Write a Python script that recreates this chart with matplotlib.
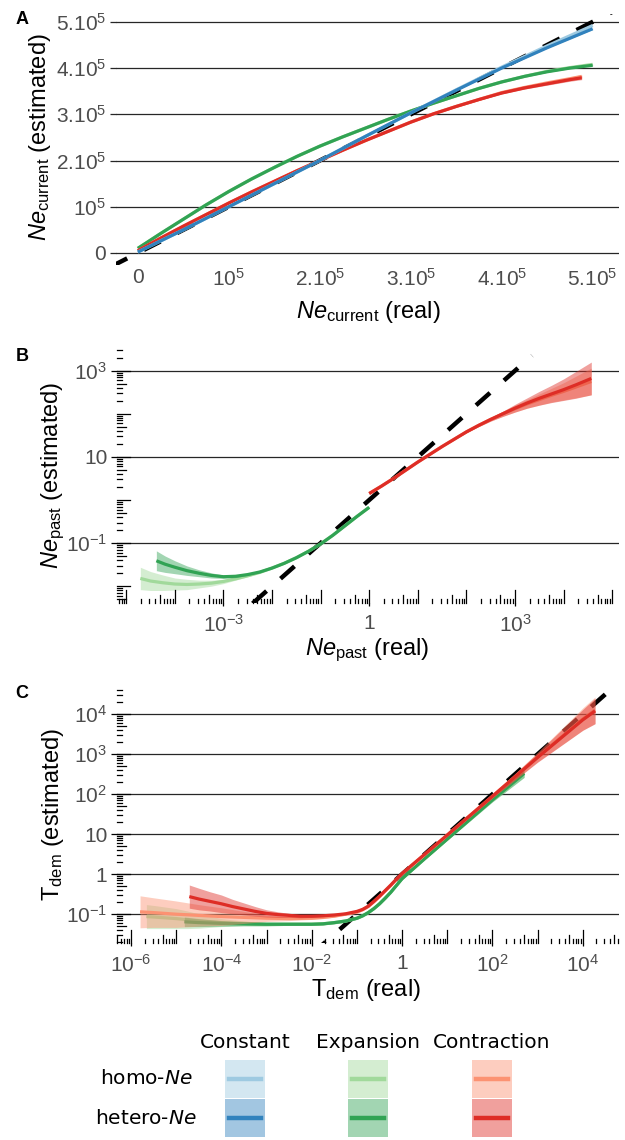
import numpy as np
import matplotlib
matplotlib.use("Agg")
import matplotlib.pyplot as plt
import matplotlib.transforms as mtransforms
from matplotlib.patches import Rectangle
from matplotlib.lines import Line2D

plt.rcParams['font.family'] = ['Liberation Sans', 'DejaVu Sans']
plt.rcParams['mathtext.fontset'] = 'custom'
plt.rcParams['mathtext.rm'] = 'Liberation Sans'
plt.rcParams['mathtext.it'] = 'Liberation Sans:italic'
plt.rcParams['mathtext.bf'] = 'Liberation Sans:bold'

W, H = 625, 1140
TICK_GREY = '#4d4d4d'

# colours (light = homo-Ne, dark = hetero-Ne)
col = {'const': ('#9ecae1', '#3182bd'),
       'exp': ('#a1d99b', '#31a354'),
       'contr': ('#fc9272', '#de2d26')}

# ---------------- panel A : Ne current (units of 1e5) ----------------
a_x = [0, 0.5, 1, 1.5, 2, 2.5, 3, 3.5, 4, 4.5, 5]
a_const_het = [0.02, 0.5, 1.0, 1.5, 2.0, 2.52, 3.03, 3.52, 4.0, 4.44, 4.85]
a_const_hom = [0.02, 0.5, 1.0, 1.5, 2.0, 2.52, 3.03, 3.53, 4.02, 4.48, 4.92]
a_const_s = [0.0, 0.0, 0.0, 0.0, 0.0, 0.005, 0.005, 0.01, 0.01, 0.01, 0.015]
a_exp_x = [0, 0.25, 0.5, 0.75, 1.0, 1.25, 1.5, 1.75, 2.0, 2.25, 2.5,
           2.75, 3.0, 3.25, 3.5, 3.75, 4.0, 4.25, 4.5, 4.75, 5.0]
a_exp_het = [0.10, 0.42, 0.73, 1.04, 1.33, 1.60, 1.85, 2.09, 2.31, 2.51, 2.70,
             2.89, 3.07, 3.24, 3.40, 3.56, 3.70, 3.82, 3.92, 4.00, 4.06]
a_exp_hom = [0.10, 0.42, 0.73, 1.04, 1.33, 1.60, 1.85, 2.09, 2.31, 2.51, 2.70,
             2.89, 3.07, 3.24, 3.40, 3.56, 3.70, 3.82, 3.93, 4.01, 4.08]
a_exp_s = [0.0] * 8 + [0.005] * 6 + [0.01] * 7
a_contr_x = [0, 0.25, 0.5, 0.75, 1.0, 1.25, 1.5, 1.75, 2.0, 2.25, 2.5,
             2.75, 3.0, 3.25, 3.5, 3.75, 4.0, 4.25, 4.5, 4.75, 4.88]
a_contr_het = [0.05, 0.32, 0.58, 0.83, 1.08, 1.32, 1.55, 1.78, 2.0, 2.22, 2.43,
               2.63, 2.83, 3.01, 3.17, 3.32, 3.46, 3.57, 3.66, 3.75, 3.79]
a_contr_hom = [0.05, 0.32, 0.58, 0.83, 1.08, 1.32, 1.55, 1.78, 2.0, 2.22, 2.43,
               2.63, 2.83, 3.01, 3.17, 3.32, 3.47, 3.58, 3.68, 3.77, 3.82]
a_contr_s = [0.0, 0.0, 0.0, 0.0, 0.0, 0.0, 0.0, 0.005, 0.005, 0.008, 0.008,
             0.01, 0.01, 0.012, 0.015, 0.018, 0.02, 0.025, 0.03, 0.035, 0.04]

# ---------------- panel B : Ne past (log10) ----------------
b_exp_het_x = [-4.38, -4.2, -4.0, -3.75, -3.5, -3.25, -3.0, -2.75, -2.5, -2.25,
               -2.0, -1.75, -1.5, -1.25, -1.0, -0.75, -0.5, -0.25, 0.0]
b_exp_het_y = [-1.41, -1.49, -1.56, -1.64, -1.70, -1.75, -1.78, -1.77, -1.73, -1.67,
               -1.58, -1.47, -1.34, -1.19, -1.02, -0.82, -0.60, -0.38, -0.17]
b_exp_het_s = [0.23, 0.19, 0.15, 0.11, 0.08, 0.06, 0.04, 0.03, 0.02, 0.015,
               0.01, 0.01, 0.01, 0.01, 0.01, 0.01, 0.01, 0.01, 0.01]
b_exp_hom_x = [-4.71, -4.5, -4.25, -4.0, -3.75, -3.5, -3.25, -3.0, -2.75, -2.5,
               -2.25, -2.0, -1.75, -1.5, -1.25, -1.0, -0.75, -0.5, -0.25, 0.0]
b_exp_hom_y = [-1.82, -1.88, -1.92, -1.95, -1.96, -1.95, -1.93, -1.89, -1.83, -1.76,
               -1.68, -1.58, -1.47, -1.34, -1.19, -1.02, -0.82, -0.60, -0.38, -0.17]
b_exp_hom_s = [0.26, 0.22, 0.18, 0.14, 0.12, 0.09, 0.07, 0.05, 0.03, 0.02,
               0.015, 0.01, 0.01, 0.01, 0.01, 0.01, 0.01, 0.01, 0.01, 0.01]
b_contr_x = [0.0, 0.25, 0.5, 0.75, 1.0, 1.25, 1.5, 1.75, 2.0, 2.25, 2.5,
             2.75, 3.0, 3.25, 3.5, 3.75, 4.0, 4.25, 4.57]
b_contr_het_y = [0.15, 0.32, 0.50, 0.69, 0.88, 1.06, 1.24, 1.41, 1.58, 1.73, 1.87,
                 2.00, 2.13, 2.25, 2.36, 2.46, 2.56, 2.67, 2.82]
b_contr_het_s = [0.01, 0.01, 0.01, 0.01, 0.01, 0.01, 0.01, 0.01, 0.02, 0.03, 0.04,
                 0.06, 0.09, 0.12, 0.16, 0.20, 0.25, 0.31, 0.38]
b_contr_hom_y = [0.15, 0.32, 0.50, 0.69, 0.88, 1.06, 1.24, 1.41, 1.58, 1.73, 1.87,
                 2.00, 2.12, 2.23, 2.33, 2.43, 2.52, 2.62, 2.75]
b_contr_hom_s = [0.01, 0.01, 0.01, 0.01, 0.01, 0.01, 0.01, 0.01, 0.02, 0.03, 0.04,
                 0.06, 0.08, 0.10, 0.13, 0.16, 0.20, 0.25, 0.31]
b_diag = [-2.4, 3.35]

# ---------------- panel C : T dem (log10) ----------------
c_contr_het_x = [-4.71, -4.5, -4.25, -4.0, -3.75, -3.5, -3.25, -3.0, -2.75, -2.5,
                 -2.25, -2.0, -1.75, -1.5, -1.25, -1.0, -0.875, -0.75, -0.625, -0.5,
                 -0.375, -0.25, -0.125, 0.0, 0.5, 1.0, 2.0, 3.0, 4.0, 4.27]
c_contr_het_y = [-0.56, -0.62, -0.68, -0.74, -0.81, -0.87, -0.93, -0.98, -1.01, -1.03,
                 -1.05, -1.05, -1.04, -1.02, -0.99, -0.93, -0.88, -0.80, -0.68, -0.55,
                 -0.41, -0.27, -0.12, 0.02, 0.50, 0.98, 1.95, 2.92, 3.86, 4.08]
c_contr_het_s = [0.29, 0.27, 0.24, 0.22, 0.18, 0.15, 0.12, 0.09, 0.07, 0.05,
                 0.04, 0.03, 0.02, 0.02, 0.02, 0.02, 0.02, 0.02, 0.02, 0.02,
                 0.02, 0.02, 0.02, 0.02, 0.02, 0.02, 0.04, 0.12, 0.26, 0.32]
c_contr_hom_x = [-5.8, -5.5, -5.0, -4.5, -4.0, -3.5, -3.0, -2.5, -2.0, -1.75,
                 -1.5, -1.25, -1.0, -0.875, -0.75, -0.625, -0.5, -0.375, -0.25, -0.125,
                 0.0, 0.5, 1.0, 2.0, 3.0, 4.0, 4.27]
c_contr_hom_y = [-0.94, -0.96, -1.0, -1.03, -1.06, -1.08, -1.10, -1.11, -1.10, -1.08,
                 -1.05, -1.0, -0.95, -0.89, -0.81, -0.69, -0.56, -0.42, -0.28, -0.13,
                 0.01, 0.49, 0.98, 1.95, 2.93, 3.88, 4.10]
c_contr_hom_s = [0.40, 0.37, 0.33, 0.27, 0.22, 0.15, 0.08, 0.05, 0.03, 0.03,
                 0.02, 0.02, 0.02, 0.02, 0.02, 0.02, 0.02, 0.02, 0.02, 0.02,
                 0.02, 0.02, 0.02, 0.04, 0.12, 0.28, 0.33]
c_exp_het_x = [-4.82, -4.5, -4.0, -3.5, -3.0, -2.5, -2.0, -1.75, -1.5, -1.25,
               -1.0, -0.875, -0.75, -0.625, -0.5, -0.375, -0.25, -0.125, 0.0, 0.5,
               1.0, 2.0, 2.7]
c_exp_het_y = [-1.19, -1.21, -1.23, -1.24, -1.25, -1.25, -1.25, -1.24, -1.21, -1.17,
               -1.10, -1.04, -0.96, -0.86, -0.74, -0.60, -0.45, -0.28, -0.11, 0.39,
               0.88, 1.86, 2.52]
c_exp_het_s = [0.12, 0.10, 0.07, 0.05, 0.04, 0.03, 0.03, 0.03, 0.03, 0.03,
               0.03, 0.03, 0.03, 0.03, 0.03, 0.03, 0.03, 0.03, 0.03, 0.03,
               0.03, 0.05, 0.10]
c_exp_hom_x = [-5.66, -5.5, -5.25, -5.0, -4.75, -4.5, -4.25, -4.0, -3.5, -3.0,
               -2.5, -2.0, -1.75, -1.5, -1.25, -1.0, -0.875, -0.75, -0.625, -0.5,
               -0.375, -0.25, -0.125, 0.0, 0.5, 1.0, 2.0, 2.7]
c_exp_hom_y = [-1.06, -1.07, -1.09, -1.11, -1.14, -1.17, -1.19, -1.21, -1.23, -1.25,
               -1.25, -1.25, -1.24, -1.21, -1.17, -1.10, -1.04, -0.96, -0.86, -0.74,
               -0.60, -0.45, -0.28, -0.11, 0.39, 0.88, 1.86, 2.52]
c_exp_hom_s = [0.30, 0.29, 0.27, 0.25, 0.22, 0.18, 0.14, 0.10, 0.06, 0.04,
               0.03, 0.03, 0.03, 0.03, 0.03, 0.03, 0.03, 0.03, 0.03, 0.03,
               0.03, 0.03, 0.03, 0.03, 0.03, 0.03, 0.05, 0.10]
c_diag = [-2.0, 5.0]

# legend
leg_cols = ['Constant', 'Expansion', 'Contraction']
leg_keys = ['const', 'exp', 'contr']
leg_rows = ['homo-$\\mathit{Ne}$', 'hetero-$\\mathit{Ne}$']

fig = plt.figure(figsize=(W / 100, H / 100), dpi=100)


def panel(l, r, t, b):
    return fig.add_axes([l / W, 1 - b / H, (r - l) / W, (b - t) / H])


def curve(ax, x, y, s, color, z, log=False, scale=1.0):
    x = np.asarray(x, float)
    y = np.asarray(y, float)
    s = np.asarray(s, float)
    if log:
        xx, yy, lo, hi = 10 ** x, 10 ** y, 10 ** (y - s), 10 ** (y + s)
    else:
        xx, yy, lo, hi = x * scale, y * scale, (y - s) * scale, (y + s) * scale
    ax.fill_between(xx, lo, hi, color=color, alpha=0.45, lw=0, zorder=z)
    ax.plot(xx, yy, color=color, lw=2.3, zorder=z + 0.5,
            solid_capstyle='butt', solid_joinstyle='round')


def dashed(ax, pts, log=False, scale=1.0):
    v = np.asarray(pts, float)
    v = 10 ** v if log else v * scale
    ax.plot(v, v, color='black', lw=3.2, dashes=(4.2, 4.2), zorder=1,
            dash_capstyle='butt')


def style(ax):
    for sp in ax.spines.values():
        sp.set_visible(False)
    ax.yaxis.grid(True, color='0.15', lw=0.9)
    ax.set_axisbelow(True)


def logticks(ax, px_w, px_h):
    tx = mtransforms.blended_transform_factory(ax.transData, ax.transAxes)
    ty = mtransforms.blended_transform_factory(ax.transAxes, ax.transData)
    x0, x1 = ax.get_xlim()
    y0, y1 = ax.get_ylim()
    for d in range(-8, 8):
        for m in range(1, 10):
            v = m * 10.0 ** d
            ln = 13 if m == 1 else (8.5 if m == 5 else 4.5)
            if x0 <= v <= x1:
                ax.plot([v, v], [0, ln / px_h], transform=tx, color='black',
                        lw=0.9, clip_on=False, zorder=5)
            if y0 <= v <= y1:
                ax.plot([0, ln / px_w], [v, v], transform=ty, color='black',
                        lw=0.9, clip_on=False, zorder=5)


def fig_text(x, y, s, **kw):
    fig.text(x / W, 1 - y / H, s, **kw)


L, R = 117, 619
LS = 15

# ---------------- A ----------------
axA = panel(116, R, 14, 265)
style(axA)
E5 = 1e5
dashed(axA, [-0.3, 5.5], scale=E5)
curve(axA, a_exp_x, a_exp_hom, a_exp_s, col['exp'][0], 2, scale=E5)
curve(axA, a_exp_x, a_exp_het, a_exp_s, col['exp'][1], 3, scale=E5)
curve(axA, a_contr_x, a_contr_hom, a_contr_s, col['contr'][0], 4, scale=E5)
curve(axA, a_contr_x, a_contr_het, a_contr_s, col['contr'][1], 5, scale=E5)
curve(axA, a_x, a_const_hom, a_const_s, col['const'][0], 6, scale=E5)
curve(axA, a_x, a_const_het, a_const_s, col['const'][1], 7, scale=E5)
axA.set_xlim(-0.24 * E5, 5.29 * E5)
axA.set_ylim(-0.26 * E5, 5.17 * E5)
a_ticks = [0, 1, 2, 3, 4, 5]
a_labels = ['0', '$10^5$', '$2.10^5$', '$3.10^5$', '$4.10^5$', '$5.10^5$']
axA.set_xticks([t * E5 for t in a_ticks])
axA.set_xticklabels(a_labels)
axA.set_yticks([t * E5 for t in a_ticks])
axA.set_yticklabels(a_labels)
axA.tick_params(axis='x', length=0, pad=2, labelsize=LS, labelcolor=TICK_GREY)
axA.tick_params(axis='y', length=4, width=0.9, color='0.15', pad=3,
                labelsize=LS, labelcolor=TICK_GREY)

# ---------------- B ----------------
axB = panel(L, R, 350, 603)
style(axB)
axB.set_xscale('log')
axB.set_yscale('log')
dashed(axB, b_diag, log=True)
curve(axB, b_exp_hom_x, b_exp_hom_y, b_exp_hom_s, col['exp'][0], 2, log=True)
curve(axB, b_exp_het_x, b_exp_het_y, b_exp_het_s, col['exp'][1], 3, log=True)
curve(axB, b_contr_x, b_contr_hom_y, b_contr_hom_s, col['contr'][0], 4, log=True)
curve(axB, b_contr_x, b_contr_het_y, b_contr_het_s, col['contr'][1], 5, log=True)
axB.set_xlim(10 ** -5.19, 10 ** 5.14)
axB.set_ylim(10 ** -2.39, 10 ** 3.48)
axB.set_xticks([1e-3, 1, 1e3])
axB.set_xticklabels(['$10^{-3}$', '1', '$10^3$'])
axB.set_yticks([1e-1, 10, 1e3])
axB.set_yticklabels(['$10^{-1}$', '10', '$10^3$'])
axB.minorticks_off()
axB.tick_params(axis='x', length=2, width=0.9, pad=6, labelsize=LS, labelcolor=TICK_GREY)
axB.tick_params(axis='y', length=4, width=0.9, pad=3, labelsize=LS, labelcolor=TICK_GREY)
logticks(axB, R - L, 603 - 350)

# ---------------- C ----------------
axC = panel(L, R, 687, 943)
style(axC)
axC.set_xscale('log')
axC.set_yscale('log')
dashed(axC, c_diag, log=True)
curve(axC, c_exp_hom_x, c_exp_hom_y, c_exp_hom_s, col['exp'][0], 2, log=True)
curve(axC, c_exp_het_x, c_exp_het_y, c_exp_het_s, col['exp'][1], 3, log=True)
curve(axC, c_contr_hom_x, c_contr_hom_y, c_contr_hom_s, col['contr'][0], 4, log=True)
curve(axC, c_contr_het_x, c_contr_het_y, c_contr_het_s, col['contr'][1], 5, log=True)
axC.set_xlim(10 ** -6.31, 10 ** 4.8)
axC.set_ylim(10 ** -1.72, 10 ** 4.68)
axC.set_xticks([1e-6, 1e-4, 1e-2, 1, 1e2, 1e4])
axC.set_xticklabels(['$10^{-6}$', '$10^{-4}$', '$10^{-2}$', '1', '$10^2$', '$10^4$'])
axC.set_yticks([1e-1, 1, 10, 1e2, 1e3, 1e4])
axC.set_yticklabels(['$10^{-1}$', '1', '10', '$10^2$', '$10^3$', '$10^4$'])
axC.minorticks_off()
axC.tick_params(axis='x', length=2, width=0.9, pad=6, labelsize=LS, labelcolor=TICK_GREY)
axC.tick_params(axis='y', length=4, width=0.9, pad=3, labelsize=LS, labelcolor=TICK_GREY)
logticks(axC, R - L, 943 - 687)

# axis titles
TS = 17
fig_text(40, 137, '$\\mathit{Ne}_{\\mathrm{current}}$ (estimated)', rotation=90,
         ha='center', va='center', fontsize=TS)
fig_text(368, 312, '$\\mathit{Ne}_{\\mathrm{current}}$ (real)', ha='center', va='center', fontsize=TS)
fig_text(53, 475, '$\\mathit{Ne}_{\\mathrm{past}}$ (estimated)', rotation=90,
         ha='center', va='center', fontsize=TS)
fig_text(367, 650, '$\\mathit{Ne}_{\\mathrm{past}}$ (real)', ha='center', va='center', fontsize=TS)
fig_text(53, 815, '$\\mathrm{T}_{\\mathrm{dem}}$ (estimated)', rotation=90,
         ha='center', va='center', fontsize=TS)
fig_text(366, 990, '$\\mathrm{T}_{\\mathrm{dem}}$ (real)', ha='center', va='center', fontsize=TS)

# panel letters
for lab, yy in zip(['A', 'B', 'C'], [19, 356, 694]):
    fig_text(22, yy, lab, ha='center', va='center', fontsize=13, fontweight='bold')

# ---------------- legend ----------------
key_left = [225, 348, 472]
row_top = [1060, 1099]
key_w, key_h = 40, 38
for j, name in enumerate(leg_cols):
    fig_text(key_left[j] + key_w / 2, 1042, name, ha='center', va='center',
             fontsize=14.5, family='DejaVu Sans')
for i, name in enumerate(leg_rows):
    fig_text(146, row_top[i] + key_h / 2, name, ha='center', va='center',
             fontsize=14.5, family='DejaVu Sans', math_fontfamily='dejavusans')
for j, k in enumerate(leg_keys):
    for i in range(2):
        c = col[k][i]
        x0 = key_left[j] / W
        y0 = 1 - (row_top[i] + key_h) / H
        fig.patches.append(Rectangle((x0, y0), key_w / W, key_h / H, transform=fig.transFigure,
                                     facecolor=c, alpha=0.45, edgecolor='none'))
        yc = 1 - (row_top[i] + key_h / 2) / H
        fig.lines.append(Line2D([(key_left[j] + 4) / W, (key_left[j] + key_w - 4) / W], [yc, yc],
                                transform=fig.transFigure, color=c, lw=3.2))

fig.savefig('out.png', dpi=100)
